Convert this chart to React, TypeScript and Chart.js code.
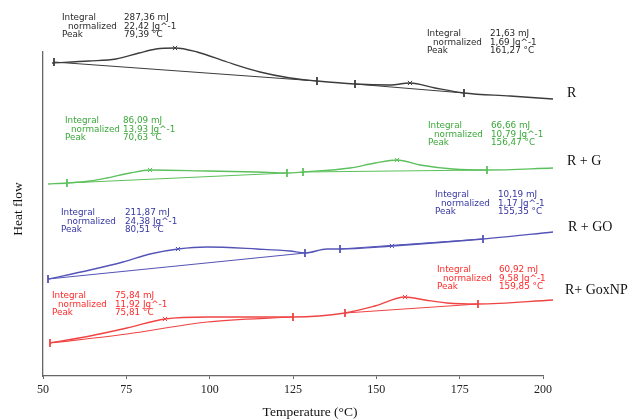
import React, { useEffect, useRef } from "react";
import { Chart, registerables } from "chart.js";

Chart.register(...registerables);

// ---- Data (temperature °C, heat flow in arbitrary units) ----
const xTicks = [50, 75, 100, 125, 150, 175, 200];

const rT = [52.7, 63.8, 71.9, 78.8, 83.9, 89.6, 96.2, 105.2, 115.1, 124.1, 132.2, 143.6, 154.1, 160.1, 167.6, 176.3, 190.1, 203.0];
const rHF = [313, 315, 317, 323, 327, 328, 324, 314, 304, 298, 295, 292, 291, 293, 288, 283, 280, 277];
const rBaseT = [[53.3, 132.2], [143.6, 176.3]];
const rBaseHF = [[314, 295], [292, 283]];
const rPeakT = [89.6, 160.1];
const rPeakHF = [328, 293];

const gT = [51.5, 57.2, 64.1, 69.2, 76.1, 82.1, 99.2, 114.2, 123.2, 128.0, 142.1, 149.6, 156.2, 163.1, 173.0, 183.2, 203.0];
const gHF = [192, 193, 195, 198, 203, 206, 205, 204, 203, 204, 208, 213, 216, 211, 207, 206, 208];
const gBaseT = [[57.2, 123.2], [128.0, 183.2]];
const gBaseHF = [[193, 203], [204, 206]];
const gPeakT = [82.1, 156.2];
const gPeakHF = [206, 216];

const bT = [51.5, 64.1, 74.0, 82.1, 90.5, 99.2, 114.2, 124.1, 128.6, 135.2, 139.1, 154.7, 182.0, 203.0];
const bHF = [97, 106, 114, 122, 127, 129, 127, 125, 123, 127, 127, 130, 137, 144];
const bBaseT = [[51.5, 128.6], [139.1, 182.0]];
const bBaseHF = [[97, 123], [127, 137]];
const bPeakT = [90.5, 154.7];
const bPeakHF = [127, 130];

const nT = [52.1, 64.1, 75.2, 86.6, 99.2, 118.1, 125.0, 140.6, 149.6, 158.6, 164.6, 171.2, 180.5, 203.0];
const nHF = [33, 40, 48, 57, 59, 59, 59, 63, 70, 79, 76, 73, 72, 76];
const nBaseT = [[52.1, 75.2, 99.2, 125.0], [140.6, 180.5]];
const nBaseHF = [[33, 42, 54, 59], [63, 72]];
const nPeakT = [86.6, 158.6];
const nPeakHF = [57, 79];

const seriesNames = ["R", "R + G", "R + GO", "R+ GoxNP"];
const seriesLabelT = [207.2, 207.2, 207.5, 206.6];
const seriesLabelHF = [283, 215, 149, 86];

const annLabels = ["Integral", "  normalized", "Peak"];
const annValues = [
  ["287,36 mJ", "22,42 Jg^-1", "79,39 °C"],
  ["21,63 mJ", "1,69 Jg^-1", "161,27 °C"],
  ["86,09 mJ", "13,93 Jg^-1", "70,63 °C"],
  ["66,66 mJ", "10,79 Jg^-1", "156,47 °C"],
  ["211,87 mJ", "24,38 Jg^-1", "80,51 °C"],
  ["10,19 mJ", "1,17 Jg^-1", "155,35 °C"],
  ["75,84 mJ", "11,92 Jg^-1", "75,81 °C"],
  ["60,92 mJ", "9,58 Jg^-1", "159,85 °C"],
];
const annSeries = [0, 0, 1, 1, 2, 2, 3, 3];
const annT = [55.7, 165.2, 56.6, 165.5, 55.4, 167.6, 52.7, 168.2];
const annValT = [74.3, 184.1, 74.0, 184.4, 74.6, 186.5, 71.6, 186.8];
const annHF = [358, 342, 255, 250, 163, 181, 80, 106];

const lineColors = ["#3c3c3c", "#5cc05c", "#5454b8", "#f04444"];
const textColors = ["#2a2a2a", "#3aa83a", "#3636a2", "#ff2a2a"];

const series = [
  { T: rT, HF: rHF, bT: rBaseT, bHF: rBaseHF, pT: rPeakT, pHF: rPeakHF },
  { T: gT, HF: gHF, bT: gBaseT, bHF: gBaseHF, pT: gPeakT, pHF: gPeakHF },
  { T: bT, HF: bHF, bT: bBaseT, bHF: bBaseHF, pT: bPeakT, pHF: bPeakHF },
  { T: nT, HF: nHF, bT: nBaseT, bHF: nBaseHF, pT: nPeakT, pHF: nPeakHF },
];

function zip(xs: number[], ys: number[]) {
  return xs.map((x, i) => ({ x, y: ys[i] }));
}

function buildDatasets() {
  const ds: any[] = [];
  series.forEach((s, i) => {
    const c = lineColors[i];
    ds.push({
      data: zip(s.T, s.HF),
      borderColor: c,
      borderWidth: 1.3,
      pointRadius: 0,
      cubicInterpolationMode: "monotone",
      clip: false,
    });
    s.bT.forEach((bt, j) => {
      const pts = zip(bt, s.bHF[j]);
      ds.push({
        data: pts,
        borderColor: c,
        borderWidth: 1.2,
        pointRadius: 0,
        cubicInterpolationMode: "monotone",
        clip: false,
      });
      // integration limits
      ds.push({
        data: [pts[0], pts[pts.length - 1]],
        showLine: false,
        pointStyle: "line",
        rotation: 90,
        pointRadius: 4,
        pointBorderWidth: 1.8,
        pointBorderColor: c,
        clip: false,
      });
    });
    ds.push({
      data: zip(s.pT, s.pHF),
      showLine: false,
      pointStyle: "crossRot",
      pointRadius: 3,
      pointBorderWidth: 1,
      pointBorderColor: c,
      clip: false,
    });
  });
  return ds;
}

const textPlugin = {
  id: "texts",
  afterDraw(chart: any) {
    const { ctx, scales } = chart;
    const xs = scales.x;
    const ys = scales.y;
    ctx.save();
    // annotations
    ctx.font = "8.8px 'DejaVu Sans', Verdana, sans-serif";
    ctx.textBaseline = "middle";
    ctx.textAlign = "left";
    annValues.forEach((vals, k) => {
      ctx.fillStyle = textColors[annSeries[k]];
      const lx = xs.getPixelForValue(annT[k]);
      const vx = xs.getPixelForValue(annValT[k]);
      const y0 = ys.getPixelForValue(annHF[k]);
      annLabels.forEach((lab, r) => {
        const indent = lab.startsWith("  ") ? 6 : 0;
        ctx.fillText(lab.trim(), lx + indent, y0 + r * 8.5);
        ctx.fillText(vals[r], vx, y0 + r * 8.5);
      });
    });
    // series labels
    ctx.font = "14px 'Liberation Serif', 'Times New Roman', serif";
    ctx.fillStyle = "#111";
    seriesNames.forEach((n, i) => {
      ctx.fillText(n, xs.getPixelForValue(seriesLabelT[i]), ys.getPixelForValue(seriesLabelHF[i]));
    });
    // axis titles
    ctx.font = "13.5px 'Liberation Serif', 'Times New Roman', serif";
    ctx.textAlign = "center";
    ctx.fillText("Temperature (°C)", 310, 412);
    ctx.translate(18, 209);
    ctx.rotate(-Math.PI / 2);
    ctx.fillText("Heat flow", 0, 0);
    ctx.restore();
  },
};

export default function App() {
  const ref = useRef<HTMLCanvasElement>(null);
  useEffect(() => {
    if (!ref.current) return;
    const chart = new Chart(ref.current, {
      type: "line",
      data: { datasets: buildDatasets() },
      options: {
        animation: false,
        responsive: false,
        maintainAspectRatio: false,
        layout: { padding: { left: 0, right: 93, top: 52, bottom: 0 } },
        plugins: { legend: { display: false }, tooltip: { enabled: false } },
        scales: {
          x: {
            type: "linear",
            min: xTicks[0],
            max: xTicks[xTicks.length - 1],
            afterBuildTicks: (s: any) => {
              s.ticks = xTicks.map((v) => ({ value: v }));
            },
            afterFit: (s: any) => {
              s.height = 44;
            },
            ticks: {
              color: "#222",
              font: { family: "'Liberation Serif', 'Times New Roman', serif", size: 12 },
              padding: 4,
            },
            grid: { drawOnChartArea: false, drawTicks: true, tickLength: 3, color: "#666" },
            border: { display: true, color: "#666", width: 1.3 },
          },
          y: {
            type: "linear",
            min: 0,
            max: 324,
            afterFit: (s: any) => {
              s.width = 43;
            },
            ticks: { display: false },
            grid: { drawOnChartArea: false, drawTicks: false },
            border: { display: true, color: "#666", width: 1.3 },
          },
        },
      },
      plugins: [textPlugin],
    } as any);
    return () => chart.destroy();
  }, []);
  return (
    <div style={{ position: "fixed", left: 0, top: 0, width: 636, height: 420, background: "#fff" }}>
      <canvas ref={ref} width={636} height={420} style={{ width: 636, height: 420 }} />
    </div>
  );
}
